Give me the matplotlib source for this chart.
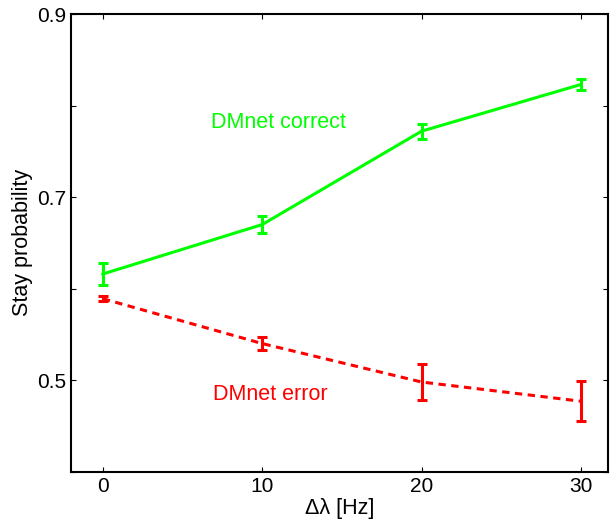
import numpy as np
import matplotlib
matplotlib.use('Agg')
import matplotlib.pyplot as plt

plt.rcParams['font.family'] = ['Liberation Sans', 'DejaVu Sans']

delta = [0, 10, 20, 30]
correct = [0.616, 0.670, 0.772, 0.823]
correct_err = [0.012, 0.009, 0.008, 0.0065]
error = [0.589, 0.540, 0.498, 0.477]
error_err = [0.003, 0.007, 0.020, 0.022]

fig = plt.figure(figsize=(6.1, 5.25), dpi=100)
ax = fig.add_axes([0.1164, 0.1015, 0.8803, 0.8718])

ax.errorbar(delta, correct, yerr=correct_err, color='#00ff00', lw=2.2,
            capsize=3.3, capthick=2.2, elinewidth=2.2)
ax.errorbar(delta, error, yerr=error_err, color='#ff0000', lw=2.2, ls='--',
            dashes=(2.4, 1.8), capsize=3.3, capthick=2.2, elinewidth=2.2)

ax.text(6.8, 0.782, 'DMnet correct', color='#00ff00', fontsize=15.5, va='center')
ax.text(6.9, 0.484, 'DMnet error', color='#ff0000', fontsize=15.5, va='center')

ax.set_xlim(-2, 31.7)
ax.set_ylim(0.4, 0.9)
ax.set_xticks([0, 10, 20, 30])
ax.set_yticks([0.4, 0.5, 0.6, 0.7, 0.8, 0.9])
ax.set_yticklabels(['', '0.5', '', '0.7', '', '0.9'])
ax.tick_params(direction='in', top=True, right=True, labelsize=15, length=3.5, width=0.8)
for s in ax.spines.values():
    s.set_linewidth(1.5)

ax.set_xlabel('Δλ [Hz]', fontsize=15.5, labelpad=2)
ax.set_ylabel('Stay probability', fontsize=15.5, labelpad=3)

fig.savefig('out.png', dpi=100)
